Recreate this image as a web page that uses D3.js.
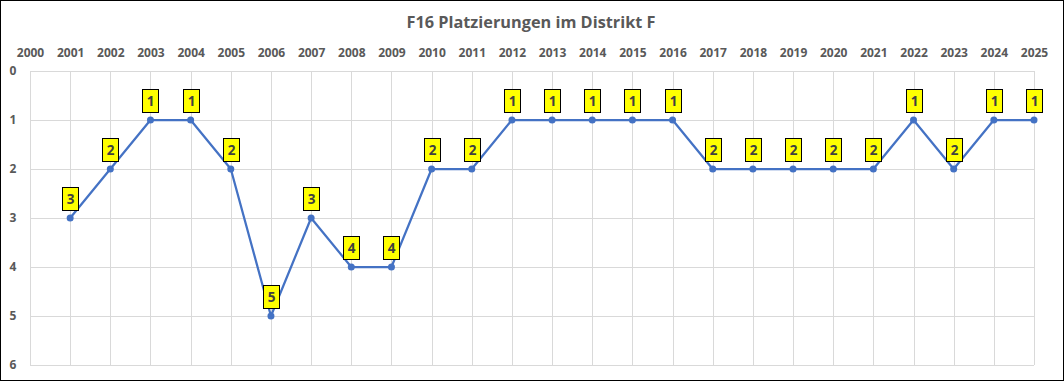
<!DOCTYPE html>
<html>
<head>
<meta charset="utf-8">
<script src="https://cdn.jsdelivr.net/npm/d3@7"></script>
<style>
  body { margin: 0; background: #fff; }
  svg { display: block; }
</style>
</head>
<body>
<svg id="chart"></svg>
<script>
const years = d3.range(2000, 2026);
const dataYears = [2001, 2002, 2003, 2004, 2005, 2006, 2007, 2008, 2009, 2010, 2011, 2012, 2013,
  2014, 2015, 2016, 2017, 2018, 2019, 2020, 2021, 2022, 2023, 2024, 2025];
const ranks = [3, 2, 1, 1, 2, 5, 3, 4, 4, 2, 2, 1, 1, 1, 1, 1, 2, 2, 2, 2, 2, 1, 2, 1, 1];
const yTicks = [0, 1, 2, 3, 4, 5, 6];

const width = 1064, height = 381;
const margin = { top: 71, right: 30, bottom: 16, left: 30 };

const svg = d3.select('#chart').attr('width', width).attr('height', height);

svg.append('rect')
  .attr('x', 0.5).attr('y', 0.5)
  .attr('width', width - 1).attr('height', height - 1)
  .attr('fill', '#fff').attr('stroke', '#000');

const x = d3.scaleLinear().domain([2000, 2025]).range([margin.left, width - margin.right]);
const y = d3.scaleLinear().domain([0, 6]).range([margin.top, height - margin.bottom]);

const font = '"Open Sans", "Liberation Sans", Arial, sans-serif';

// grid
svg.append('g')
  .selectAll('line')
  .data(years)
  .join('line')
  .attr('x1', d => Math.round(x(d)) + 0.5).attr('x2', d => Math.round(x(d)) + 0.5)
  .attr('y1', y(0)).attr('y2', y(6))
  .attr('stroke', '#d9d9d9');

svg.append('g')
  .selectAll('line')
  .data(yTicks)
  .join('line')
  .attr('x1', x(2000)).attr('x2', x(2025))
  .attr('y1', d => Math.round(y(d)) + 0.5).attr('y2', d => Math.round(y(d)) + 0.5)
  .attr('stroke', '#d9d9d9');

// axes
const xAxis = svg.append('g')
  .attr('transform', `translate(0, ${margin.top})`)
  .call(d3.axisTop(x).tickValues(years).tickFormat(d3.format('d')).tickSize(0).tickPadding(14));
xAxis.select('.domain').remove();
xAxis.selectAll('text')
  .attr('fill', '#595959')
  .style('font-family', font)
  .style('font-size', '12px')
  .style('font-weight', 'bold');

const yAxis = svg.append('g')
  .call(d3.axisLeft(y).tickValues(yTicks).tickFormat(d3.format('d')).tickSize(0));
yAxis.select('.domain').remove();
yAxis.selectAll('text')
  .attr('x', 13)
  .attr('fill', '#595959')
  .attr('text-anchor', 'middle')
  .style('font-family', font)
  .style('font-size', '12px')
  .style('font-weight', 'bold');

// title
svg.append('text')
  .attr('x', 531)
  .attr('y', 28)
  .attr('text-anchor', 'middle')
  .attr('fill', '#595959')
  .style('font-family', font)
  .style('font-size', '16.3px')
  .style('font-weight', 'bold')
  .text('F16 Platzierungen im Distrikt F');

const points = dataYears.map((yr, i) => ({ year: yr, rank: ranks[i] }));

const line = d3.line().x(d => x(d.year)).y(d => y(d.rank));

svg.append('path')
  .datum(points)
  .attr('d', line)
  .attr('fill', 'none')
  .attr('stroke', '#4472c4')
  .attr('stroke-width', 2.25)
  .attr('stroke-linejoin', 'round');

svg.append('g')
  .selectAll('circle')
  .data(points)
  .join('circle')
  .attr('cx', d => x(d.year))
  .attr('cy', d => y(d.rank))
  .attr('r', 3.5)
  .attr('fill', '#4472c4');

// data labels
const labels = svg.append('g')
  .selectAll('g')
  .data(points)
  .join('g')
  .attr('transform', d => `translate(${Math.round(x(d.year))}, ${Math.round(y(d.rank)) - 19})`);

labels.append('rect')
  .attr('x', -7.5).attr('y', -11.5)
  .attr('width', 16).attr('height', 23)
  .attr('fill', '#ffff00')
  .attr('stroke', '#000')
  .attr('stroke-width', 1);

labels.append('text')
  .attr('x', 0.5)
  .attr('y', 5)
  .attr('text-anchor', 'middle')
  .attr('fill', '#404040')
  .style('font-family', font)
  .style('font-size', '13.5px')
  .style('font-weight', 'bold')
  .text(d => d.rank);
</script>
</body>
</html>
